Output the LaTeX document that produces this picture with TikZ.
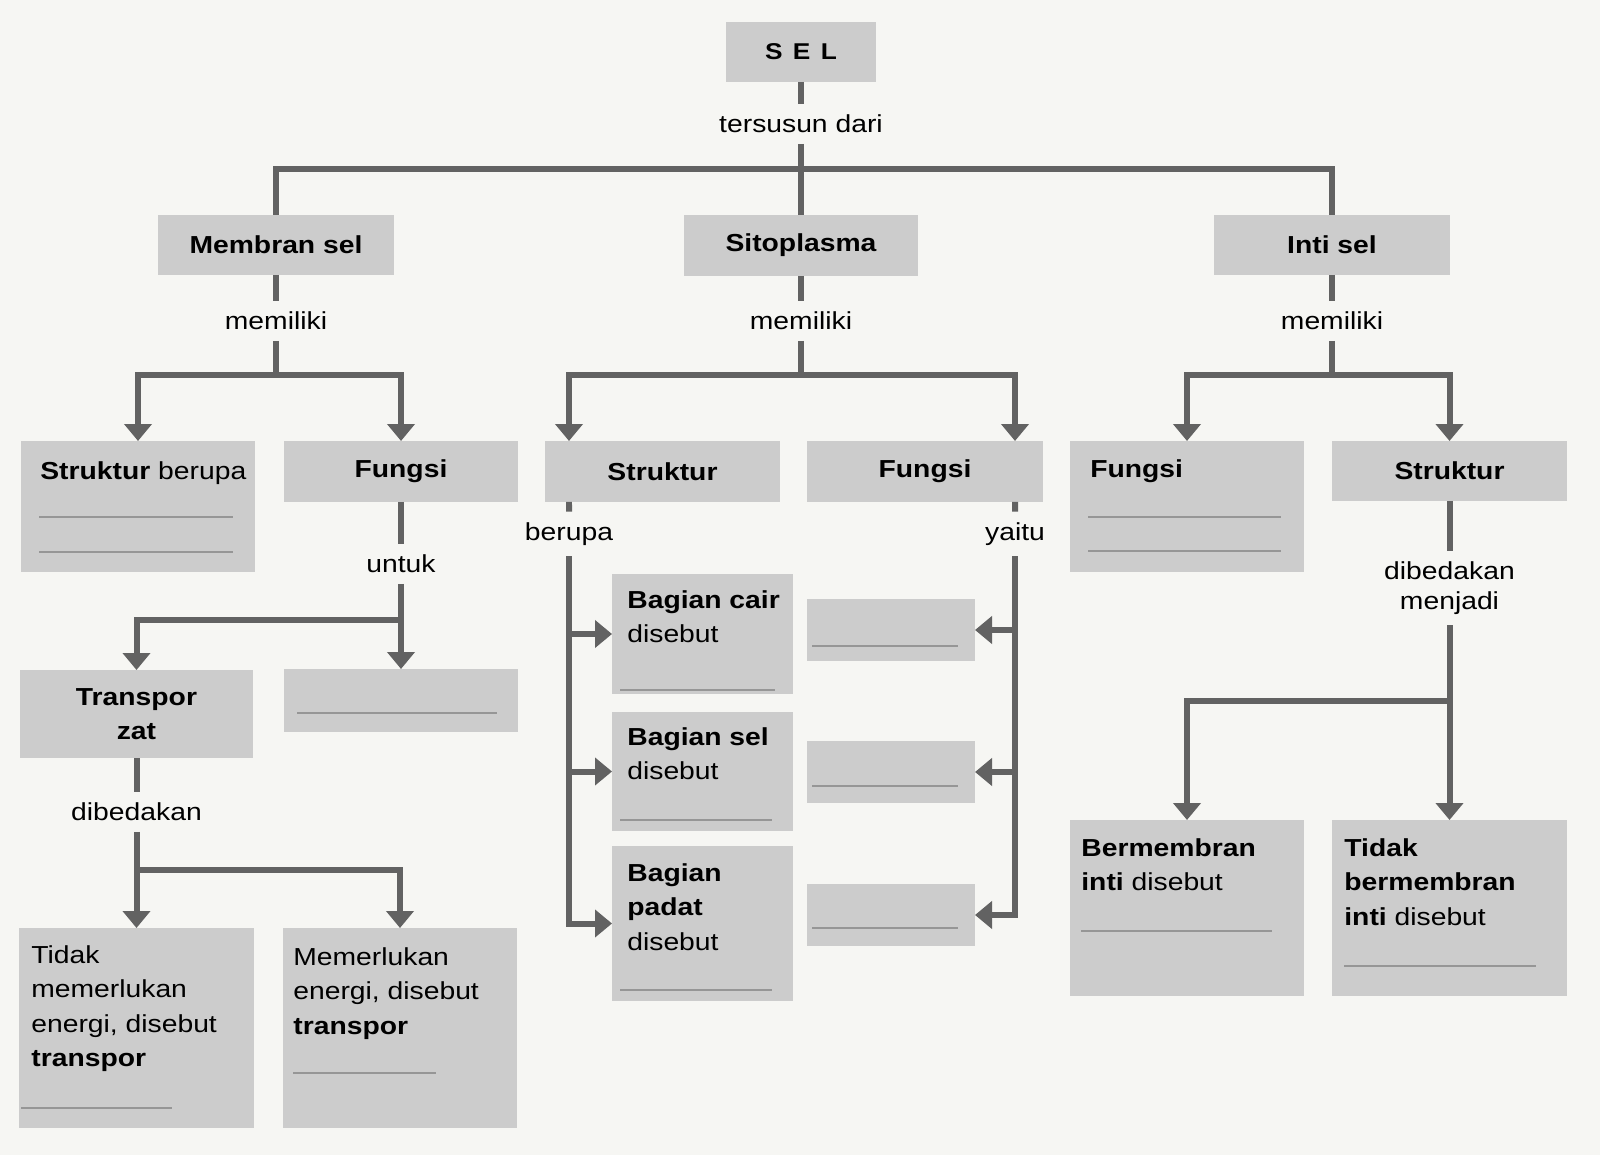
\documentclass[tikz,border=0pt]{standalone}
\usepackage{fontspec}
\setmainfont{Liberation Sans}[FakeStretch=1.15]
\usetikzlibrary{arrows.meta,positioning}
\definecolor{kertas}{RGB}{246,246,243}
\definecolor{abu}{RGB}{204,204,204}
\definecolor{garis}{RGB}{98,98,98}
\definecolor{isian}{RGB}{150,150,150}
\newcommand{\pxu}{0.02cm}
\newcommand{\kotak}[6]{%
  \node[box, minimum width={(#4-#2)*\pxu}, minimum height={(#5-#3)*\pxu}]
    (#1) at ({(#2+#4)/2},{(#3+#5)/2}) {#6};}
\tikzset{
  box/.style={rectangle, fill=abu, inner sep=0pt, outer sep=0pt, align=center,
    font=\bfseries\fontsize{14}{19.6}\selectfont},
  isi/.style={anchor=north west, inner sep=0pt, align=left, font=\fontsize{14}{19.6}\selectfont},
  lbl/.style={inner xsep=2pt, inner ysep=6pt, align=center, font=\fontsize{14}{17}\selectfont},
  conn/.style={garis, line width=0.12cm},
  arr/.style={conn, -{Triangle[length=0.34cm, width=0.54cm]}},
  blank/.style={isian, line width=0.6pt},
}

\begin{document}
\begin{tikzpicture}[x=\pxu, y=-\pxu]
\fill[kertas] (0,0) rectangle (1600,1155);
\useasboundingbox (0,0) rectangle (1600,1155);

\kotak{sel}{726}{22}{876}{82}{\fontsize{13}{15}\selectfont S\hspace{.45em}E\hspace{.45em}L}
\kotak{membran}{158}{215}{394}{275}{Membran sel}
\kotak{sito}{684}{215}{918}{276}{Sitoplasma}
\kotak{inti}{1214}{215}{1450}{275}{Inti sel}

\kotak{strukA}{21}{441}{255}{572}{}
\kotak{fungA}{284}{441}{518}{502}{Fungsi}
\kotak{strukB}{545}{441}{780}{502}{Struktur}
\kotak{fungB}{807}{441}{1043}{502}{Fungsi}
\kotak{fungC}{1070}{441}{1304}{572}{}
\kotak{strukC}{1332}{441}{1567}{501}{Struktur}

\kotak{transpor}{20}{670}{253}{758}{Transpor\\zat}
\kotak{blankA}{284}{669}{518}{732}{}
\kotak{tidakE}{19}{928}{254}{1128}{}
\kotak{perluE}{283}{928}{517}{1128}{}

\kotak{bcair}{612}{574}{793}{694}{}
\kotak{bsel}{612}{712}{793}{831}{}
\kotak{bpadat}{612}{846}{793}{1001}{}
\kotak{fc1}{807}{599}{975}{661}{}
\kotak{fc2}{807}{741}{975}{803}{}
\kotak{fc3}{807}{884}{975}{946}{}

\kotak{bermem}{1070}{820}{1304}{996}{}
\kotak{tidakM}{1332}{820}{1567}{996}{}

\node[isi] (t-strukA) at (40,461) {\textbf{Struktur} berupa};
\node[isi] (t-fungC) at (1090,459) {\textbf{Fungsi}};
\node[isi] (t-bcair) at (627,590) {\textbf{Bagian cair}\\disebut};
\node[isi] (t-bsel) at (627,727) {\textbf{Bagian sel}\\disebut};
\node[isi] (t-bpadat) at (627,863) {\textbf{Bagian}\\\textbf{padat}\\disebut};
\node[isi] (t-tidakE) at (31,945) {Tidak\\memerlukan\\energi, disebut\\\textbf{transpor}};
\node[isi] (t-perluE) at (293,947) {Memerlukan\\energi, disebut\\\textbf{transpor}};
\node[isi] (t-bermem) at (1081,838) {\textbf{Bermembran}\\\textbf{inti} disebut};
\node[isi] (t-tidakM) at (1344,838) {\textbf{Tidak}\\\textbf{bermembran}\\\textbf{inti} disebut};

\draw[blank] (39,517) -- (233,517) (39,552) -- (233,552);
\draw[blank] (297,713) -- (497,713);
\draw[blank] (1088,517) -- (1281,517) (1088,551) -- (1281,551);
\draw[blank] (21,1108) -- (172,1108);
\draw[blank] (293,1073) -- (436,1073);
\draw[blank] (620,690) -- (775,690) (620,820) -- (772,820) (620,990) -- (772,990);
\draw[blank] (812,646) -- (958,646) (812,786) -- (958,786) (812,928) -- (958,928);
\draw[blank] (1081,931) -- (1272,931);
\draw[blank] (1344,966) -- (1536,966);

\node[lbl] (tersusun) at (801,124) {tersusun dari};
\node[lbl] (memA) at (276,321) {memiliki};
\node[lbl] (memB) at (801,321) {memiliki};
\node[lbl] (memC) at (1332,321) {memiliki};
\node[lbl] (untuk) at (401,564) {untuk};
\node[lbl] (berupa) at (569,534) {berupa};
\node[lbl] (yaitu) at (1015,534) {yaitu};
\node[lbl] (dibA) at (136.5,812) {dibedakan};
\node[lbl] (dibC) at (1449.5,588) {dibedakan\\menjadi};

\coordinate (barT) at (801,169);
\coordinate (barA) at (276,375);
\coordinate (barB) at (801,375);
\coordinate (barC) at (1332,375);
\coordinate (barU) at (401,620);
\coordinate (barE) at (136.5,870);
\coordinate (barM) at (1449.5,701);

\draw[conn] (sel) -- (tersusun);
\draw[conn] (tersusun) -- (sito);
\draw[conn] (membran) |- (barT) -| (inti);

\draw[conn] (membran) -- (memA);
\draw[conn] (memA) -- (barA);
\draw[arr] (barA) -| (strukA);
\draw[arr] (barA) -| (fungA);

\draw[conn] (sito) -- (memB);
\draw[conn] (memB) -- (barB);
\draw[arr] (barB) -| ([xshift=0.48cm]strukB.north west);
\draw[arr] (barB) -| ([xshift=-0.56cm]fungB.north east);

\draw[conn] (inti) -- (memC);
\draw[conn] (memC) -- (barC);
\draw[arr] (barC) -| (fungC);
\draw[arr] (barC) -| (strukC);

\draw[conn] (fungA) -- (untuk);
\draw[arr] (untuk) -- (blankA);
\draw[arr] (barU) -| (transpor);
\draw[conn] (transpor) -- (dibA);
\draw[arr] (dibA) -- (tidakE);
\draw[arr] (barE) -| (perluE);

\draw[conn] ([xshift=0.48cm]strukB.south west) -- (berupa);
\draw[arr] (berupa) |- (bcair);
\draw[arr] (berupa) |- (bsel);
\draw[arr] (berupa) |- (bpadat);
\draw[conn] ([xshift=-0.56cm]fungB.south east) -- (yaitu);
\draw[arr] (yaitu) |- (fc1);
\draw[arr] (yaitu) |- (fc2);
\draw[arr] (yaitu) |- (fc3);

\draw[conn] (strukC) -- (dibC);
\draw[arr] (dibC) -- (tidakM);
\draw[arr] (barM) -| (bermem);
\end{tikzpicture}
\end{document}
